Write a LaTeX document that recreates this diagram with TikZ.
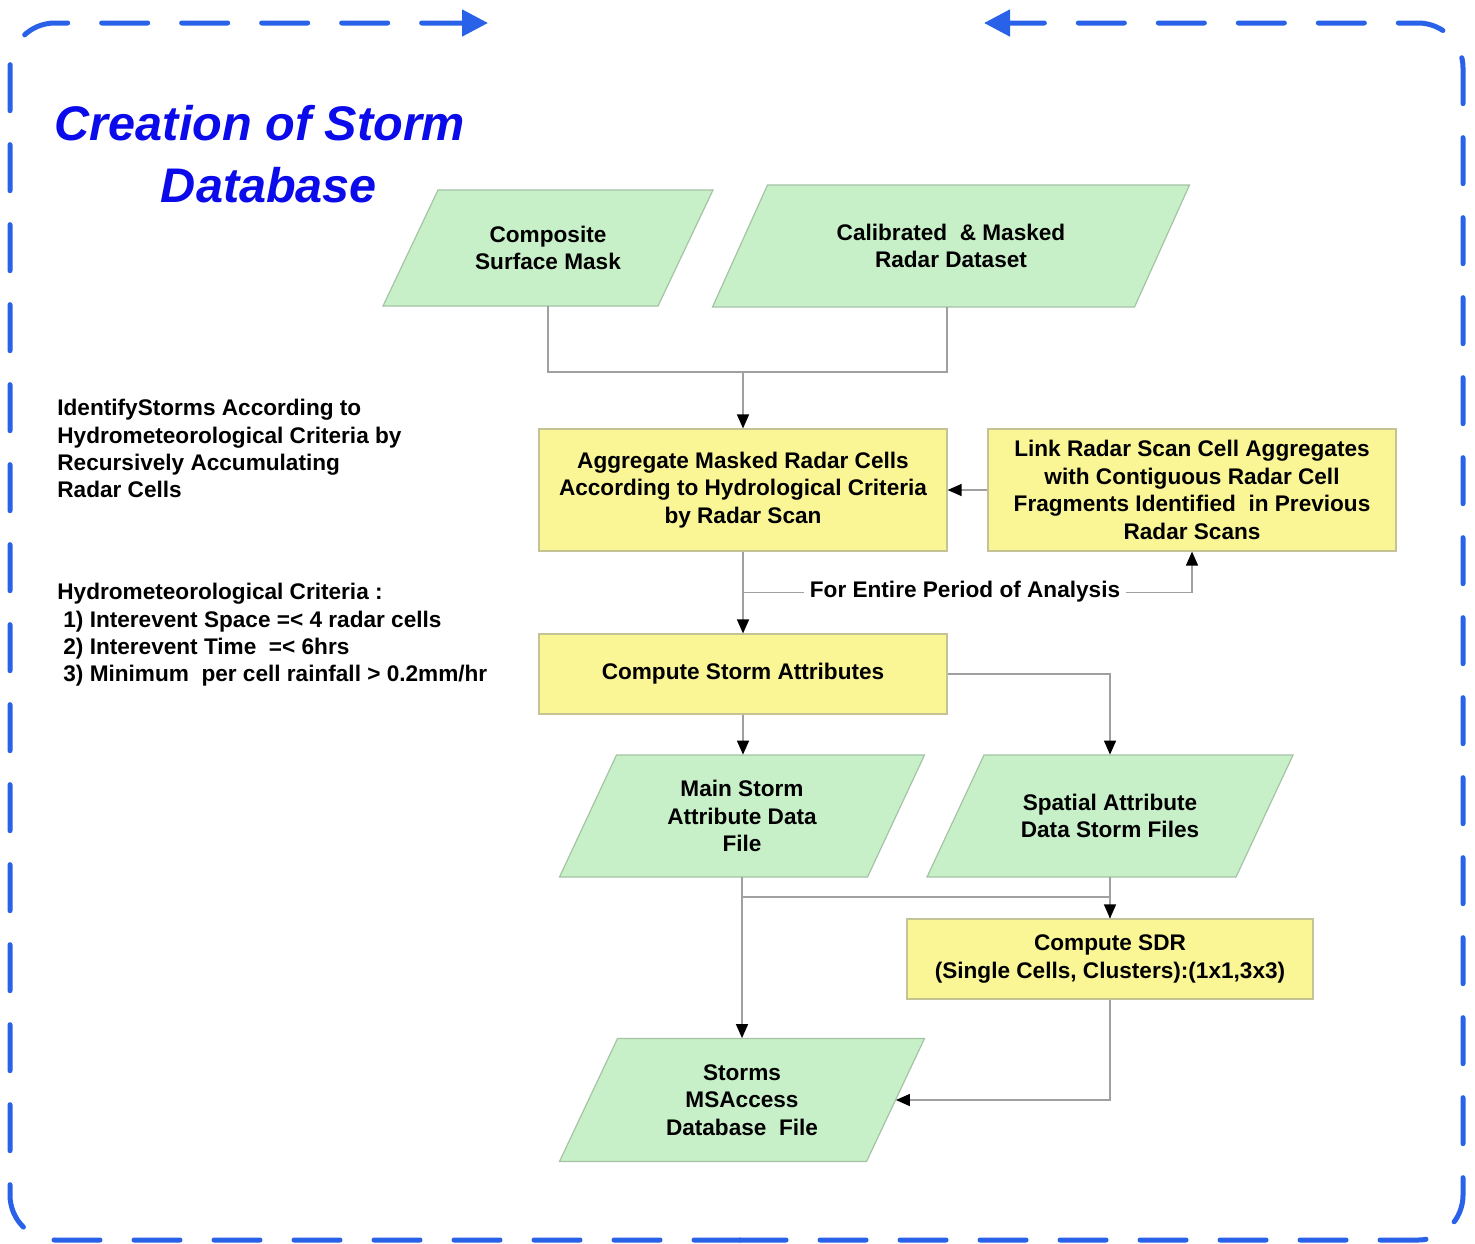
\documentclass[tikz,border=0pt]{standalone}
\usepackage{fontspec}
\setmainfont{Liberation Sans}
\usetikzlibrary{arrows.meta,calc}
\definecolor{bord}{RGB}{41,98,232}
\definecolor{ttl}{RGB}{10,10,235}
\definecolor{gfill}{RGB}{200,240,200}
\definecolor{gline}{RGB}{165,195,165}
\definecolor{yfill}{RGB}{250,246,150}
\definecolor{yline}{RGB}{195,195,150}
\definecolor{lncol}{RGB}{160,160,160}
% parallelogram: name, x, y, total width, height, slant, text (pixel units)
\newcommand\pgram[7]{%
  \pgfmathsetmacro\pgw{(#4-#6)*0.5}%
  \pgfmathsetmacro\pgh{#5*0.5}%
  \filldraw[fill=gfill, draw=gline, line width=0.6pt]
    ({#2-#4/2+#6},{#3-#5/2}) -- ({#2+#4/2},{#3-#5/2}) --
    ({#2+#4/2-#6},{#3+#5/2}) -- ({#2-#4/2},{#3+#5/2}) -- cycle;
  \node[txt, minimum width=\pgw pt, minimum height=\pgh pt, inner sep=0pt] (#1) at (#2,#3) {#7};%
}
\begin{document}
\begin{tikzpicture}[x=0.5pt,y=-0.5pt,
  txt/.style={font=\fontsize{11.3}{13.7}\selectfont\bfseries, align=center, text=black},
  ybox/.style={txt, rectangle, fill=yfill, draw=yline, line width=0.6pt, inner sep=0pt, minimum width=204pt},
  conn/.style={draw=lncol, line width=0.75pt},
  arr/.style={conn, -{Triangle[width=6pt,length=7pt,black]}},
  bd/.style={draw=bord, line width=2.5pt, line cap=round, dash pattern=on 23pt off 17pt, rounded corners=22.5pt},
  lefttxt/.style={font=\fontsize{11.3}{13.7}\selectfont\bfseries, align=left, anchor=north west, inner sep=0pt, text=black}
]
\useasboundingbox[fill=white] (0,0) rectangle (1475,1243);

% border
\draw[bd, -{Triangle[width=13pt,length=13pt]}] (740,1240) -- (10,1240) -- (10,23) -- (488,23);
\draw[bd, -{Triangle[width=13pt,length=13pt]}] (740,1240) -- (1463,1240) -- (1463,23) -- (984,23);

% title
\node[font=\fontsize{24.3}{31}\selectfont\bfseries\itshape, text=ttl, align=center] (title) at (260,154) {Creation of Storm\\\hspace*{9pt}Database};

% side texts
\node[lefttxt] (desc) at (57,399) {IdentifyStorms According to\\Hydrometeorological Criteria by\\Recursively Accumulating\\Radar Cells};
\node[lefttxt] (crit) at (57,583) {Hydrometeorological Criteria :\\\hspace*{3pt}1) Interevent Space =< 4 radar cells\\\hspace*{3pt}2) Interevent Time\ \ =< 6hrs\\\hspace*{3pt}3) Minimum\ \ per cell rainfall > 0.2mm/hr};

% shapes
\pgram{comp}{548}{248}{330}{116}{55}{Composite\\Surface Mask}
\pgram{cal}{951}{246}{477}{122}{55}{Calibrated\ \ \& Masked\\Radar Dataset}
\node[ybox, minimum height=61pt] (agg) at (743,490) {Aggregate Masked Radar Cells\\According to Hydrological Criteria\\by Radar Scan};
\node[ybox, minimum height=61pt] (link) at (1192,490) {Link Radar Scan Cell Aggregates\\with Contiguous Radar Cell\\Fragments Identified\ \ in Previous\\Radar Scans};
\node[ybox, minimum height=40pt] (csa) at (743,674) {Compute Storm Attributes};
\pgram{main}{742}{816}{365}{122}{57}{Main Storm\\Attribute Data\\File}
\pgram{spat}{1110}{816}{366}{122}{57}{Spatial Attribute\\Data Storm Files}
\node[ybox, minimum width=203pt, minimum height=40pt] (sdr) at (1110,959) {Compute SDR\\(Single Cells, Clusters):(1x1,3x3)};
\pgram{stor}{742}{1100}{365}{123}{58}{Storms\\MSAccess\\Database\ \ File}

% connectors
\coordinate (j1) at (743,372);
\draw[conn] (comp.south) |- (j1) -| ([xshift=-2pt]cal.south);
\draw[arr] (j1) -- (agg.north);
\draw[arr] (link.west) -- (agg.east);
\draw[arr] (agg.south) -- (csa.north);
\coordinate (j2) at ($(agg.south)!0.5!(csa.north)$);
\draw[arr] (j2) -| (link.south);
\node[txt, fill=white, inner xsep=3pt, inner ysep=1pt] (fep) at (965,592) {For Entire Period of Analysis};
\draw[arr] (csa.south) -- (csa.south |- main.north);
\draw[arr] (csa.east) -| (spat.north);
\draw[arr] (main.south) -- (main.south |- stor.north);
\coordinate (j3) at (743,897);
\draw[conn] (j3) -| (sdr.north);
\draw[arr] (spat.south) -- (sdr.north);
\draw[arr] (sdr.south) |- (stor.east);
\end{tikzpicture}
\end{document}
